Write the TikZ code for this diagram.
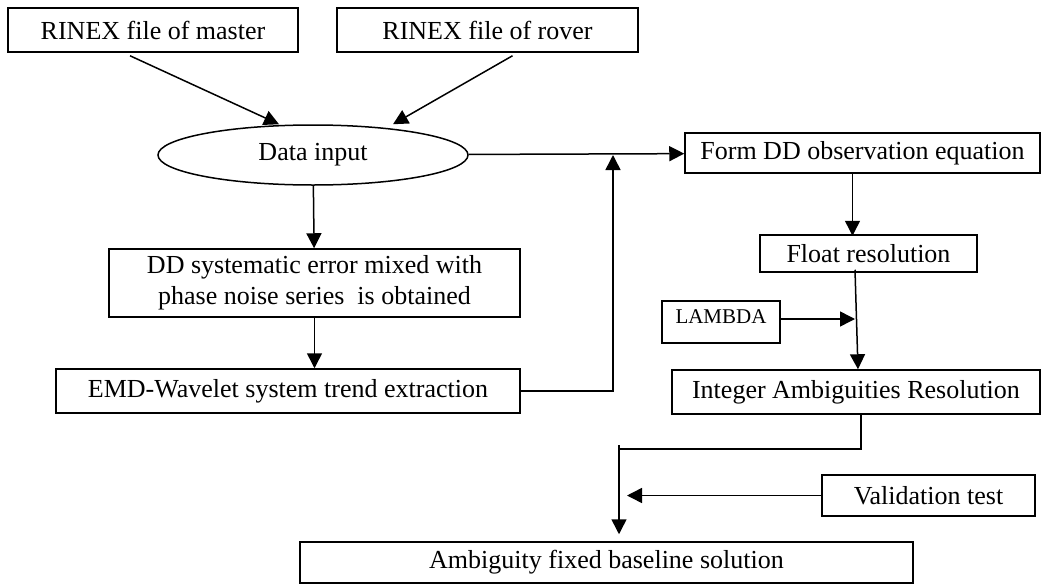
\documentclass[tikz,border=0pt]{standalone}
\usepackage{fontspec}
\setmainfont{Liberation Serif}
\usepackage{tikz}
\usetikzlibrary{shapes.geometric, arrows, arrows.meta, positioning}

\begin{document}
\begin{tikzpicture}[x=1pt, y=-1pt, auto]
    \tikzstyle{procbox} = [rectangle, draw=black, line width=1.5pt, inner sep=0pt, text centered, font=\fontsize{26}{31}\selectfont]
    \tikzstyle{inout} = [ellipse, draw=black, line width=1.5pt, inner sep=0pt, minimum width=310pt, minimum height=60pt, font=\fontsize{26}{31}\selectfont]
    \tikzstyle{arrow} = [line width=1.5pt, -{Triangle[length=15pt, width=15pt]}]
    \tikzstyle{link} = [line width=1.5pt]

    \useasboundingbox (0,0) rectangle (1042,584);

    \node (master) [procbox, minimum width=290pt, minimum height=44pt] at (153,30) {RINEX file of master};
    \node (rover) [procbox, minimum width=301pt, minimum height=44pt] at (487.5,30) {RINEX file of rover};
    \node (datain) [inout] at (313,155) {Data input};
    \node (ddsys) [procbox, align=center, minimum width=411pt, minimum height=68pt] at (314.5,283) {DD systematic error mixed with\\phase noise series~ is obtained};
    \node (emd) [procbox, minimum width=464pt, minimum height=44pt] at (288,391) {EMD-Wavelet system trend extraction};
    \node (formdd) [procbox, minimum width=355pt, minimum height=40pt] at (862.5,153) {Form DD observation equation};
    \node (float) [procbox, minimum width=217pt, minimum height=37pt] at (868.5,253.5) {Float resolution};
    \node (lambda) [procbox, minimum width=118pt, minimum height=42pt, font=\fontsize{21}{25}\selectfont, text height=14pt, text depth=12pt] at (721,322) {LAMBDA};
    \node (integer) [procbox, minimum width=368pt, minimum height=44pt] at (856,392) {Integer Ambiguities Resolution};
    \node (valid) [procbox, minimum width=213pt, minimum height=41pt] at (928.5,495.5) {Validation test};
    \node (ambig) [procbox, minimum width=613pt, minimum height=41pt] at (606.5,562.5) {Ambiguity fixed baseline solution};

    \coordinate (join) at (613,155);
    \coordinate (lamtip) at (855,319);
    \coordinate (merge) at (619,449);

    \draw [arrow] ([xshift=-23pt,yshift=-3pt]master.south) -- ([xshift=-34pt]datain.north);
    \draw [arrow] ([xshift=25pt,yshift=-3pt]rover.south) -- ([xshift=80pt]datain.north);
    \draw [arrow] (datain) -- (formdd);
    \draw [arrow] (datain) -- (ddsys);
    \draw [arrow] (ddsys.south) -- (ddsys.south |- emd.north);
    \draw [arrow] (emd.east) -| (join);
    \draw [arrow] ([xshift=-10pt]formdd.south) -- ++(0,62);
    \draw [arrow] ([xshift=-13.5pt,yshift=3pt]float.south) -- ([xshift=2pt]integer.north);
    \draw [arrow] ([yshift=3pt]lambda.east) -- (lamtip);
    \draw [link] ([xshift=5pt]integer.south) |- (merge);
    \draw [arrow, shorten >=7pt] ([yshift=4pt]merge) -- (merge |- ambig.north);
    \draw [arrow, shorten >=8pt] (valid.west) -- (valid.west -| merge);
\end{tikzpicture}
\end{document}
